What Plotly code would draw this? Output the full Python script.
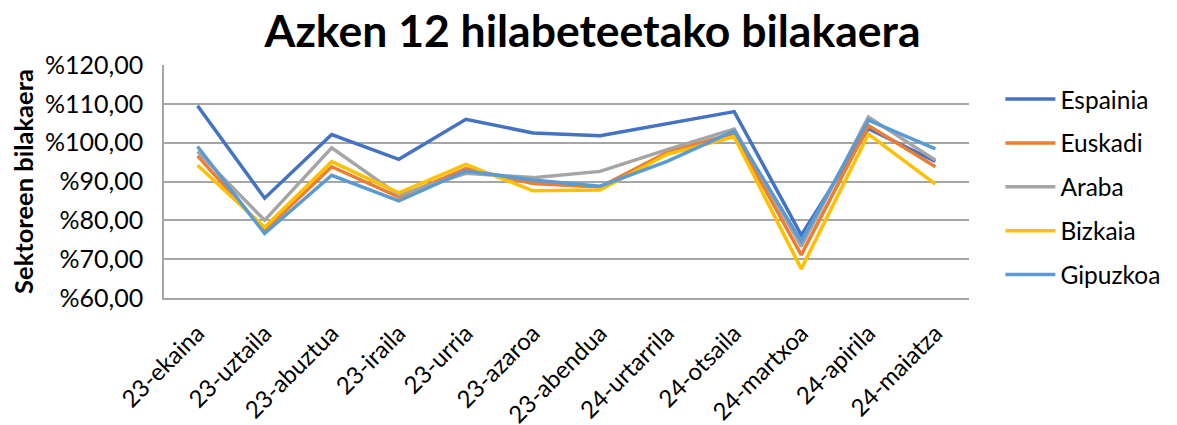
import plotly.graph_objects as go

categories = ["23-ekaina", "23-uztaila", "23-abuztua", "23-iraila", "23-urria", "23-azaroa",
              "23-abendua", "24-urtarrila", "24-otsaila", "24-martxoa", "24-apirila", "24-maiatza"]

espainia = [109.5, 85.7, 102.1, 95.7, 106.0, 102.5, 101.8, 105.0, 108.0, 76.2, 103.6, 95.2]
euskadi  = [96.6, 77.4, 93.8, 86.0, 93.3, 89.5, 88.6, 97.5, 102.4, 71.1, 104.4, 93.8]
araba    = [97.7, 80.0, 98.7, 86.5, 92.1, 91.0, 92.6, 98.2, 103.5, 73.3, 106.6, 95.5]
bizkaia  = [94.2, 78.2, 95.1, 87.1, 94.4, 87.6, 87.8, 97.0, 101.5, 67.5, 102.2, 89.3]
gipuzkoa = [99.0, 76.6, 91.6, 85.0, 92.7, 90.4, 88.8, 95.2, 103.0, 74.6, 105.8, 98.4]

series = [
    ("Espainia", espainia, "#4472C4"),
    ("Euskadi", euskadi, "#ED7D31"),
    ("Araba", araba, "#A5A5A5"),
    ("Bizkaia", bizkaia, "#FFC000"),
    ("Gipuzkoa", gipuzkoa, "#5B9BD5"),
]

fig = go.Figure()
for name, vals, color in series:
    fig.add_trace(go.Scatter(x=categories, y=vals, name=name, mode="lines",
                             line=dict(color=color, width=3.5), legendgroup=name))

font_family = "Lato, Open Sans, sans-serif"
fig.update_layout(
    width=1169, height=417,
    margin=dict(l=156, r=199, t=57, b=127),
    paper_bgcolor="white", plot_bgcolor="white",
    separators=",.",
    font=dict(family=font_family, color="black", size=20),
    title=dict(text="<b>Azken 12 hilabeteetako bilakaera</b>", x=0.5, xref="container",
               xanchor="center", y=0.945, yanchor="middle", yref="container",
               font=dict(size=44.5, family=font_family, color="black")),
    legend=dict(x=1.039, y=0.95, xanchor="left", yanchor="top",
                font=dict(size=24.5, family=font_family), tracegroupgap=9,
                itemwidth=50, bgcolor="rgba(0,0,0,0)"),
    showlegend=True,
)
fig.update_yaxes(range=[60, 120], dtick=10, tickprefix="%", tickformat=".2f",
                 showgrid=True, gridcolor="#A6A6A6", gridwidth=1.5,
                 showline=True, linecolor="#A6A6A6", linewidth=1.5,
                 zeroline=False, ticks="", tickfont=dict(size=25),
                 ticklabelstandoff=14, automargin=False,
                 title=dict(text="<b>Sektoreen bilakaera</b>", font=dict(size=25.5), standoff=14))
fig.update_xaxes(type="category", range=[-0.5, 11.5], tickangle=-45, showgrid=False,
                 showline=True, linecolor="#A6A6A6", linewidth=1.5,
                 ticks="", tickfont=dict(size=24), automargin=False, ticklabelstandoff=10)

fig.write_html("out.html")
